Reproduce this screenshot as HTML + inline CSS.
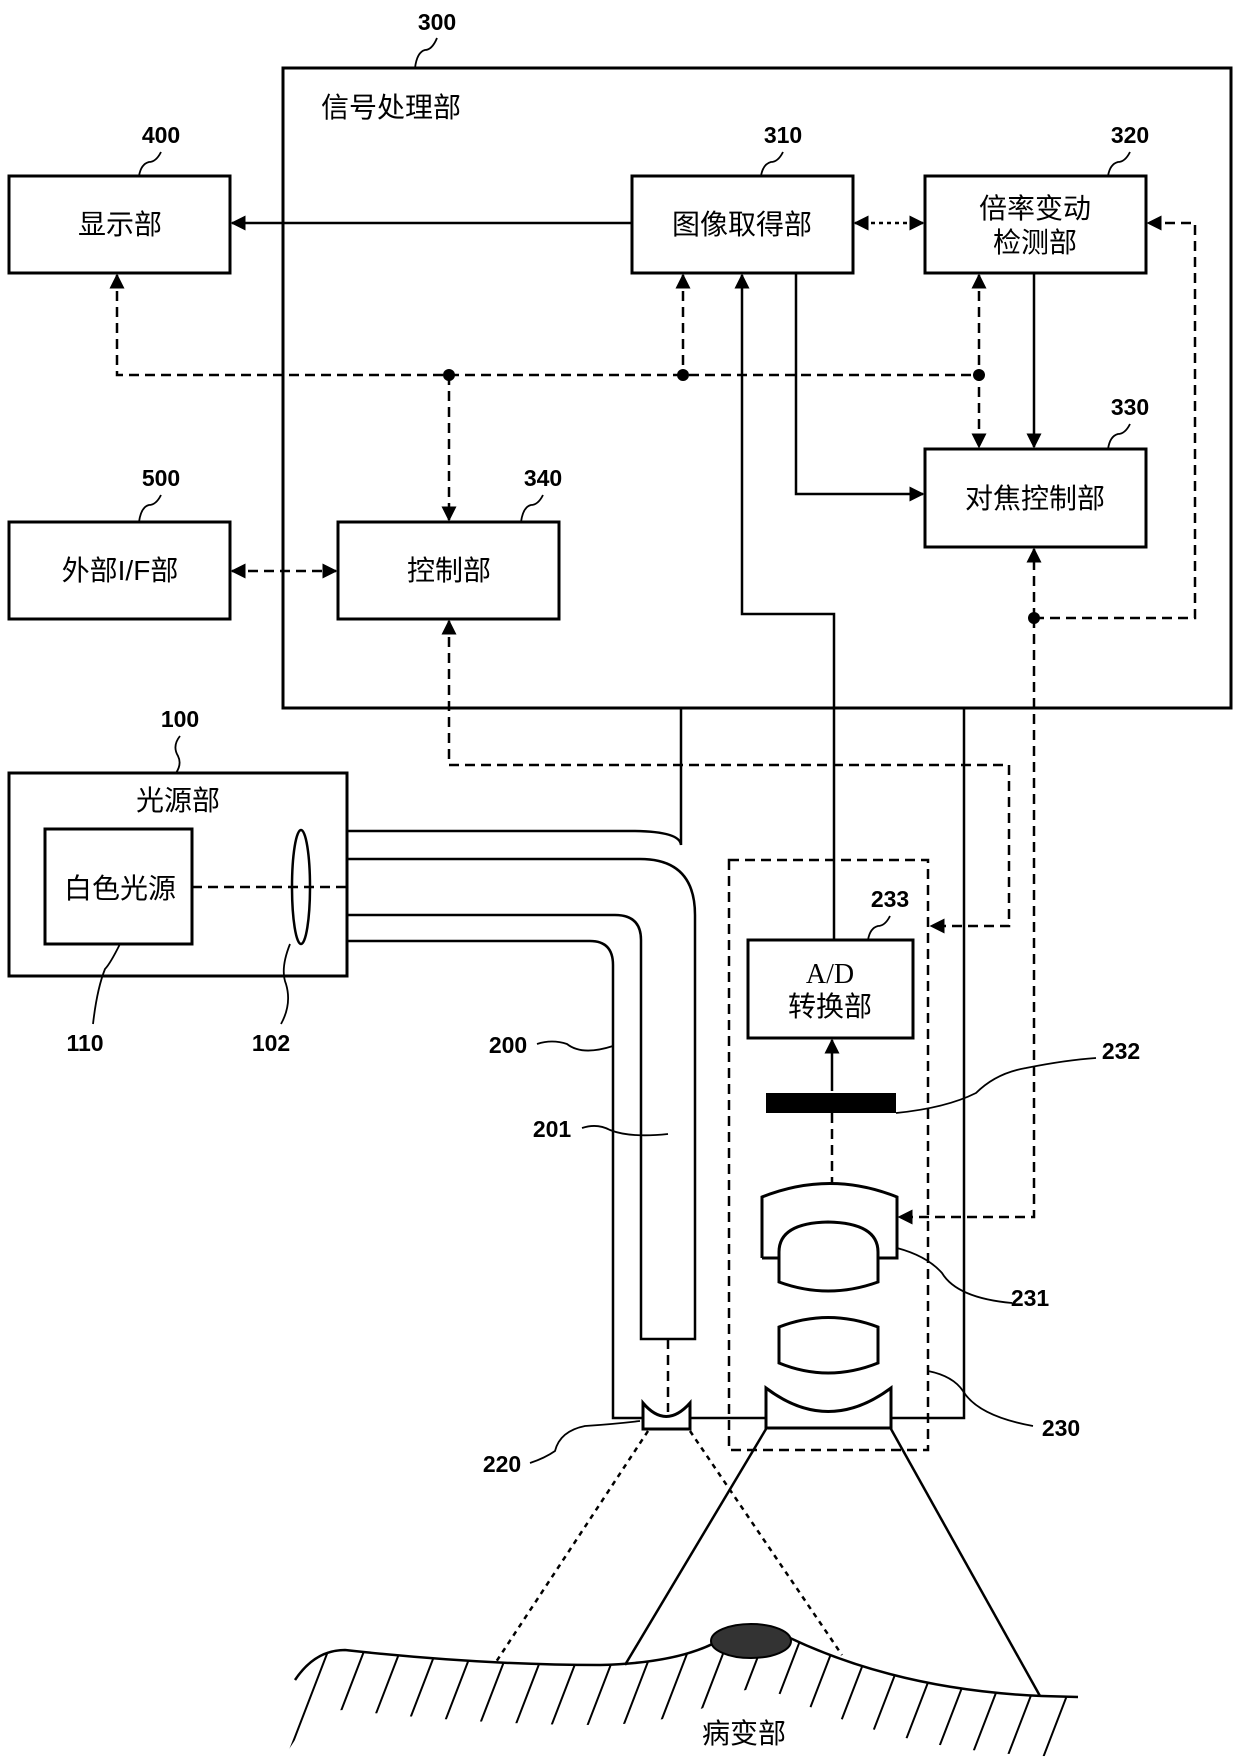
<!DOCTYPE html>
<html><head><meta charset="utf-8"><style>
html,body{margin:0;padding:0;background:#fff}
svg{display:block}
.t{font-family:"Liberation Sans","Noto Sans CJK SC",sans-serif;font-size:28px;fill:#000}
.n{font-family:"Liberation Sans",sans-serif;font-size:23px;font-weight:bold;fill:#000}
</style></head><body>
<svg width="1240" height="1763" viewBox="0 0 1240 1763" xmlns="http://www.w3.org/2000/svg">
<defs>
<marker id="a" viewBox="0 0 10 10" refX="9" refY="5" markerWidth="6" markerHeight="6" orient="auto-start-reverse"><path d="M0,0 L10,5 L0,10 z" fill="#000"/></marker>
<clipPath id="cl"><path clip-rule="evenodd" d="M295,1680 Q315,1650 345,1650 Q480,1665 600,1665 Q680,1663 720,1640 Q750,1620 790,1638 Q900,1690 1042,1696 L1078,1697 L1078,1763 L280,1763 Z M295,1740 Q315,1710 345,1710 Q480,1725 600,1725 Q680,1723 720,1700 Q750,1680 790,1698 Q900,1750 1042,1756 L1078,1757 L1078,1763 L280,1763 Z"/></clipPath>
</defs>
<g fill="none" stroke="#000" stroke-width="2.5">
<rect x="283" y="68" width="948" height="640" stroke-width="3"/>
<rect x="9" y="176" width="221" height="97" stroke-width="3"/>
<rect x="632" y="176" width="221" height="97" stroke-width="3"/>
<rect x="925" y="176" width="221" height="97" stroke-width="3"/>
<rect x="925" y="449" width="221" height="98" stroke-width="3"/>
<rect x="338" y="522" width="221" height="97" stroke-width="3"/>
<rect x="9" y="522" width="221" height="97" stroke-width="3"/>
<rect x="9" y="773" width="338" height="203" stroke-width="3"/>
<rect x="45" y="829" width="147" height="115" stroke-width="3"/>
<ellipse cx="301" cy="887" rx="9" ry="57"/>
<rect x="748" y="940" width="165" height="98" stroke-width="3"/>
<line x1="632" y1="223" x2="232" y2="223" marker-end="url(#a)"/>
<line x1="1034" y1="273" x2="1034" y2="447" marker-end="url(#a)"/>
<polyline points="796,273 796,494 923,494" marker-end="url(#a)"/>
<polyline points="834,940 834,614 742,614 742,275" marker-end="url(#a)"/>
<line x1="832" y1="1091" x2="832" y2="1040" marker-end="url(#a)"/>
<g stroke-dasharray="10,6">
<polyline points="117,275 117,375 979,375" marker-start="url(#a)"/>
<line x1="683" y1="275" x2="683" y2="375" marker-start="url(#a)"/>
<line x1="979" y1="275" x2="979" y2="447" marker-start="url(#a)" marker-end="url(#a)"/>
<line x1="449" y1="375" x2="449" y2="520" marker-end="url(#a)"/>
<line x1="232" y1="571" x2="336" y2="571" marker-start="url(#a)" marker-end="url(#a)"/>
<line x1="1034" y1="618" x2="1034" y2="549" marker-end="url(#a)"/>
<polyline points="1034,618 1195,618 1195,223 1148,223" marker-end="url(#a)"/>
<polyline points="1034,618 1034,1217 899,1217" marker-end="url(#a)"/>
<polyline points="449,621 449,765 1009,765 1009,926 931,926" marker-start="url(#a)" marker-end="url(#a)"/>
<line x1="192" y1="887" x2="347" y2="887"/>
<rect x="729" y="860" width="199" height="590"/>
<line x1="832" y1="1113" x2="832" y2="1183"/>
<line x1="668" y1="1339" x2="668" y2="1412"/>
</g>
<line x1="855" y1="223" x2="923" y2="223" stroke-dasharray="4,4" marker-start="url(#a)" marker-end="url(#a)"/>
<path d="M347,831 L630,831 Q680,831 681,845 L681,708"/>
<path d="M964,708 L964,1418 L890,1418 M766,1418 L690,1418 M643,1418 L613,1418 L613,965 Q613,941 590,941 L347,941"/>
<path d="M347,859 L640,859 Q695,859 695,915 L695,1339 L641,1339 L641,940 Q641,915 615,915 L347,915"/>
<path d="M762,1258 L762,1197 Q830,1170 897,1197 L897,1258 L878,1258 M779,1258 L762,1258" stroke-width="3"/>
<path d="M779,1252 Q779,1223 828,1222 Q878,1223 878,1252 L878,1282 Q828,1300 779,1282 Z" stroke-width="3"/>
<path d="M779,1327 Q828,1308 878,1327 L878,1363 Q828,1383 779,1363 Z" stroke-width="3"/>
<path d="M766,1388 Q828,1435 891,1388 L891,1428 L766,1428 Z" stroke-width="3"/>
<path d="M643,1403 Q666,1430 690,1403 L690,1429 L643,1429 Z" stroke-width="3"/>
<line x1="648" y1="1431" x2="496" y2="1662" stroke-dasharray="5,5"/>
<line x1="690" y1="1431" x2="842" y2="1655" stroke-dasharray="5,5"/>
<line x1="766" y1="1429" x2="625" y2="1665"/>
<line x1="891" y1="1429" x2="1040" y2="1696"/>
<path d="M295,1680 Q315,1650 345,1650 Q480,1665 600,1665 Q680,1663 720,1640 Q750,1620 790,1638 Q900,1690 1042,1696 L1078,1697"/>
<g clip-path="url(#cl)" stroke-width="2">
<path d="M340,1620 l-55,143 M376,1620 l-55,143 M412,1620 l-55,143 M448,1620 l-55,143 M484,1620 l-55,143 M520,1620 l-55,143 M556,1620 l-55,143 M592,1620 l-55,143 M628,1620 l-55,143 M664,1620 l-55,143 M700,1620 l-55,143 M736,1620 l-55,143 M772,1620 l-55,143 M808,1620 l-55,143 M844,1620 l-55,143 M880,1620 l-55,143 M916,1620 l-55,143 M952,1620 l-55,143 M988,1620 l-55,143 M1024,1620 l-55,143 M1060,1620 l-55,143 M1096,1620 l-55,143 M1132,1620 l-55,143"/>
</g>
<g stroke-width="1.8">
<path d="M437,38 q-5,12 -12,12 q-8,2 -10,18"/>
<path d="M161,152 q-5,10 -12,10 q-8,2 -10,14"/>
<path d="M783,152 q-5,10 -12,10 q-8,2 -10,14"/>
<path d="M1130,152 q-5,10 -12,10 q-8,2 -10,14"/>
<path d="M1130,424 q-5,10 -12,10 q-8,2 -10,15"/>
<path d="M543,495 q-5,10 -12,10 q-8,2 -10,17"/>
<path d="M161,495 q-5,10 -12,10 q-8,2 -10,17"/>
<path d="M180,736 q-8,10 -2,20 q4,8 -2,17"/>
<path d="M890,916 q-5,10 -12,10 q-8,2 -10,14"/>
<path d="M120,944 q-10,20 -15,25 q-8,20 -12,55"/>
<path d="M290,944 q-10,25 -4,40 q6,20 -5,40"/>
<path d="M537,1044 q15,-5 30,0 q15,12 46,2"/>
<path d="M582,1128 q15,-5 28,2 q20,8 58,4"/>
<path d="M896,1113 q50,-5 80,-20 q20,-20 50,-25 q40,-8 70,-10"/>
<path d="M897,1248 q30,8 45,25 q15,25 70,30"/>
<path d="M928,1371 q25,5 35,20 q15,25 70,35"/>
<path d="M530,1463 q15,-5 25,-12 q5,-20 30,-25 q30,-2 55,-5"/>
</g>
</g>
<g fill="#000">
<circle cx="449" cy="375" r="6"/><circle cx="683" cy="375" r="6"/><circle cx="979" cy="375" r="6"/><circle cx="1034" cy="618" r="6"/>
<rect x="766" y="1093" width="130" height="20"/>
<ellipse cx="751" cy="1641" rx="40" ry="17" fill="#333" stroke="#000" stroke-width="2"/>
</g>
<g class="t">
<text x="321" y="117">信号处理部</text>
<text x="120" y="234" text-anchor="middle">显示部</text>
<text x="742" y="234" text-anchor="middle">图像取得部</text>
<text x="1035" y="218" text-anchor="middle">倍率变动</text>
<text x="1035" y="252" text-anchor="middle">检测部</text>
<text x="1035" y="508" text-anchor="middle">对焦控制部</text>
<text x="449" y="580" text-anchor="middle">控制部</text>
<text x="120" y="580" text-anchor="middle">外部I/F部</text>
<text x="178" y="810" text-anchor="middle">光源部</text>
<text x="120" y="898" text-anchor="middle">白色光源</text>
<text x="830" y="983" text-anchor="middle" style="font-family:'Liberation Serif',serif">A/D</text>
<text x="830" y="1016" text-anchor="middle">转换部</text>
<text x="744" y="1743" text-anchor="middle">病变部</text>
</g>
<g class="n" text-anchor="middle">
<text x="437" y="30">300</text>
<text x="161" y="143">400</text>
<text x="783" y="143">310</text>
<text x="1130" y="143">320</text>
<text x="1130" y="415">330</text>
<text x="543" y="486">340</text>
<text x="161" y="486">500</text>
<text x="180" y="727">100</text>
<text x="890" y="907">233</text>
<text x="85" y="1051">110</text>
<text x="271" y="1051">102</text>
<text x="508" y="1053">200</text>
<text x="552" y="1137">201</text>
<text x="1121" y="1059">232</text>
<text x="1030" y="1306">231</text>
<text x="1061" y="1436">230</text>
<text x="502" y="1472">220</text>
</g>
</svg>
</body></html>
